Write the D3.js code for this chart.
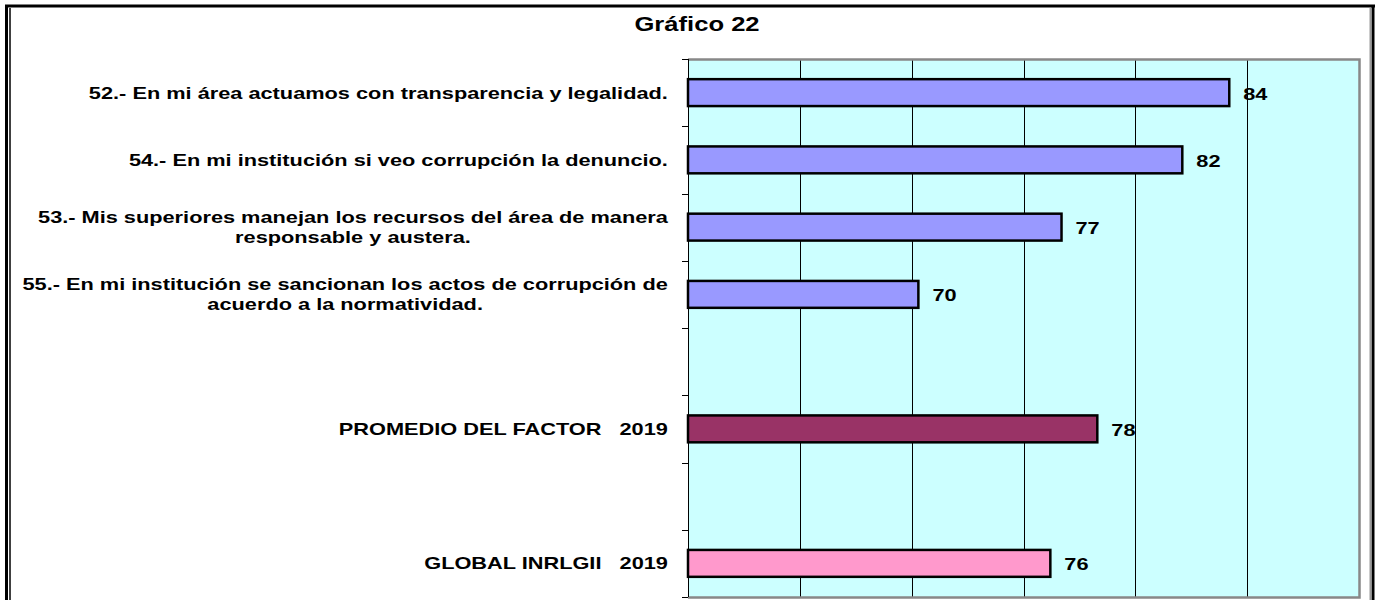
<!DOCTYPE html>
<html>
<head>
<meta charset="utf-8">
<script src="https://cdn.jsdelivr.net/npm/d3@7"></script>
<style>
  body { margin: 0; background: #fff; }
  svg { display: block; font-family: "Liberation Sans", Arial, sans-serif; font-weight: bold; }
  text { white-space: pre; }
</style>
</head>
<body>
<script>
// Data.
var categories = ["c52", "c54", "c53", "c55", "gap1", "promedio", "gap2", "global"];
var labelLines = [
  ["52.- En mi área actuamos con transparencia y legalidad."],
  ["54.- En mi institución si veo corrupción la denuncio."],
  ["53.- Mis superiores manejan los recursos del área de manera", "responsable y austera."],
  ["55.- En mi institución se sancionan los actos de corrupción de", "acuerdo a la normatividad."],
  [],
  ["PROMEDIO DEL FACTOR   2019"],
  [],
  ["GLOBAL INRLGII   2019"]
];
var values = [84.2, 82.1, 76.7, 70.3, null, 78.3, null, 76.2];
var barColors = ["#9999FF", "#9999FF", "#9999FF", "#9999FF", null, "#993366", null, "#FF99CC"];
var gridTicks = [65, 70, 75, 80, 85];

var W = 1383, H = 600;
var plotL = 688, plotR = 1359, plotT = 59, plotB = 597;
var sx = 1.28; // text in the picture is stretched sideways

var svg = d3.select("body")
  .append("svg")
  .attr("width", W)
  .attr("height", H);

// Outer frame.
svg.append("line").attr("x1", 5).attr("x2", 1375).attr("y1", 6).attr("y2", 6)
  .attr("stroke", "#000").attr("stroke-width", 3);
svg.append("line").attr("x1", 6.5).attr("x2", 6.5).attr("y1", 5).attr("y2", H)
  .attr("stroke", "#000").attr("stroke-width", 3);
svg.append("line").attr("x1", 10).attr("x2", 10).attr("y1", 8).attr("y2", H)
  .attr("stroke", "#000").attr("stroke-width", 1.5);
svg.append("line").attr("x1", 1373).attr("x2", 1373).attr("y1", 5).attr("y2", H)
  .attr("stroke", "#000").attr("stroke-width", 3);
svg.append("line").attr("x1", 1370.5).attr("x2", 1370.5).attr("y1", 8).attr("y2", H)
  .attr("stroke", "#999").attr("stroke-width", 2);

var x = d3.scaleLinear().domain([60, 90]).range([plotL, plotR]);
var y = d3.scaleBand().domain(categories).range([plotT, plotB])
  .paddingInner(0.6).paddingOuter(0.3);

// Plot background.
svg.append("rect")
  .attr("x", plotL).attr("y", plotT)
  .attr("width", plotR - plotL).attr("height", plotB - plotT)
  .attr("fill", "#CCFFFF");

// Gridlines.
svg.selectAll("line.grid")
  .data(gridTicks)
  .enter()
  .append("line")
  .attr("class", "grid")
  .attr("x1", function(d){return Math.round(x(d)) + 0.5;})
  .attr("x2", function(d){return Math.round(x(d)) + 0.5;})
  .attr("y1", plotT).attr("y2", plotB)
  .attr("stroke", "#000").attr("stroke-width", 1);

// Gray border top, right and bottom.
svg.append("path")
  .attr("d", "M" + plotL + "," + (plotT + 0.5) + "H" + (plotR + 0.5) + "V" + (plotB + 0.5) + "H" + plotL)
  .attr("fill", "none").attr("stroke", "#888").attr("stroke-width", 2.5);

// Bars.
var bars = categories.map(function(c, i){
  return {cat: c, v: values[i], color: barColors[i]};
}).filter(function(d){return d.v !== null;});

svg.selectAll("rect.bar")
  .data(bars)
  .enter()
  .append("rect")
  .attr("class", "bar")
  .attr("x", x(60))
  .attr("y", function(d){return y(d.cat);})
  .attr("width", function(d){return x(d.v) - x(60);})
  .attr("height", y.bandwidth())
  .attr("fill", function(d){return d.color;})
  .attr("stroke", "#000")
  .attr("stroke-width", 2.5);

// Value labels.
svg.selectAll("text.val")
  .data(bars)
  .enter()
  .append("text")
  .attr("class", "val")
  .attr("transform", function(d){
    return "translate(" + (x(d.v) + 14) + "," + (y(d.cat) + y.bandwidth() / 2 + 1) + ") scale(" + sx + ",1)";
  })
  .attr("dy", "0.36em")
  .attr("font-size", 17)
  .text(function(d){return Math.round(d.v);});

// Left axis with ticks outside (category separators).
var yAxisG = svg.append("g");
yAxisG.append("line")
  .attr("x1", plotL + 0.5).attr("x2", plotL + 0.5)
  .attr("y1", plotT).attr("y2", plotB)
  .attr("stroke", "#000");
var step = y.step();
var tickYs = d3.range(categories.length + 1).map(function(i){return plotT + i * step;});
yAxisG.selectAll("line.tick")
  .data(tickYs)
  .enter()
  .append("line")
  .attr("class", "tick")
  .attr("x1", plotL - 6).attr("x2", plotL)
  .attr("y1", function(d){return Math.round(d) + 0.5;})
  .attr("y2", function(d){return Math.round(d) + 0.5;})
  .attr("stroke", "#000");

// Category labels: block right-aligned to the axis, lines centred.
var lineH = 20;
categories.forEach(function(c, i){
  var lines = labelLines[i];
  if (!lines.length) return;
  var g = svg.append("g");
  var cy = y(c) + y.bandwidth() / 2;
  var texts = lines.map(function(t, k){
    return g.append("text")
      .attr("dy", "0.36em")
      .attr("font-size", 17)
      .attr("text-anchor", "middle")
      .text(t);
  });
  var maxW = d3.max(texts, function(t){return t.node().getComputedTextLength();}) * sx;
  var cx = plotL - 20 - maxW / 2;
  texts.forEach(function(t, k){
    var ty = cy + (k - (lines.length - 1) / 2) * lineH;
    t.attr("transform", "translate(" + cx + "," + ty + ") scale(" + sx + ",1)");
  });
});

// Title.
svg.append("text")
  .attr("transform", "translate(697,24) scale(" + sx + ",1)")
  .attr("dy", "0.36em")
  .attr("text-anchor", "middle")
  .attr("font-size", 20)
  .text("Gráfico 22");
</script>
</body>
</html>
